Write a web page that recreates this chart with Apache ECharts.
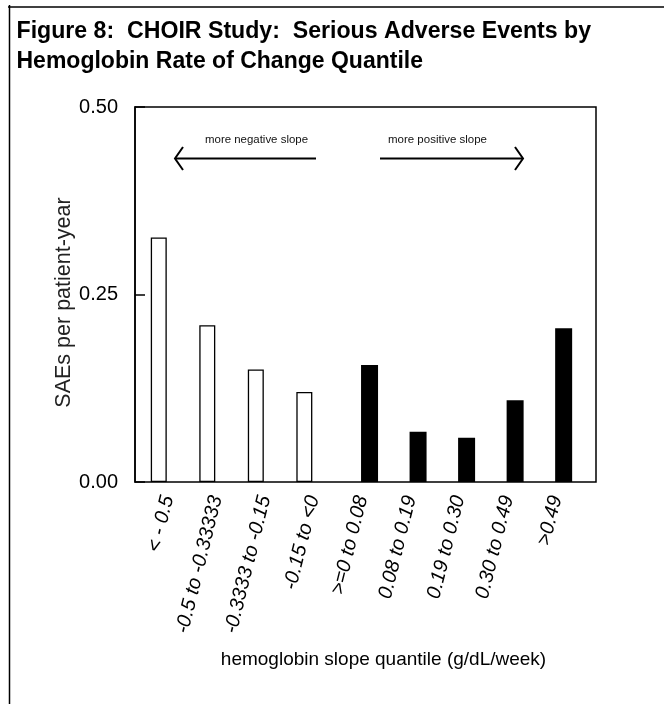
<!DOCTYPE html>
<html>
<head>
<meta charset="utf-8">
<script src="https://cdn.jsdelivr.net/npm/echarts@6/dist/echarts.min.js"></script>
<style>
  html, body { margin: 0; padding: 0; background: #fff; }
  #chart { width: 664px; height: 704px; }
</style>
</head>
<body>
<div id="chart"></div>
<script>
// Hemoglobin slope quantiles (g/dL/week), lowest to highest
const categories = [
  '< - 0.5', '-0.5 to -0.33333', '-0.3333 to -0.15', '-0.15 to <0',
  '>=0 to 0.08', '0.08 to 0.19', '0.19 to 0.30', '0.30 to 0.49', '>0.49'
];
// Serious adverse events per patient-year in each quantile
const saeRates = [0.326, 0.209, 0.150, 0.120, 0.156, 0.067, 0.059, 0.109, 0.205];
// The first four quantiles have a negative slope, the rest a non-negative one
const negativeCount = 4;
const yTicks = [0, 0.25, 0.5];

const titleLines = [
  'Figure 8:  CHOIR Study:  Serious Adverse Events by',
  'Hemoglobin Rate of Change Quantile'
];

// Layout of the bar slots on the x scale (one slot per quantile)
const GROUP_GAP = 1 / 3;      // extra space between negative and positive groups
const LABEL_SHIFT = 0.68;     // tick label anchor inside each slot
const slotPos = i => i + 0.5 + (i >= negativeCount ? GROUP_GAP : 0);

const negData = [], posData = [];
saeRates.forEach((v, i) => {
  (i < negativeCount ? negData : posData).push([slotPos(i), v]);
});

const SANS = "'Liberation Sans', Arial, sans-serif";

// Horizontal scale that fits a text into a given width
const measureCtx = document.createElement('canvas').getContext('2d');
function fitScale(text, font, width) {
  measureCtx.font = font;
  return width / measureCtx.measureText(text).width;
}

const titleFont = 'bold 23.3px ' + SANS;
const noteFont = '11.5px ' + SANS;

const chart = echarts.init(document.getElementById('chart'), null, { renderer: 'canvas' });

chart.setOption({
  backgroundColor: '#fff',
  animation: false,
  grid: {
    left: 135, right: 68, top: 107, bottom: 222,
    show: true, borderColor: '#000', borderWidth: 1.5, backgroundColor: 'transparent'
  },
  xAxis: {
    type: 'value',
    min: 0,
    max: 9.5,
    axisLine: { show: false },
    axisTick: { show: false },
    splitLine: { show: false },
    axisLabel: {
      customValues: categories.map((_, i) => i + LABEL_SHIFT),
      formatter: v => categories[Math.round(v - LABEL_SHIFT)],
      rotate: 76,
      margin: 14,
      fontSize: 20,
      fontStyle: 'italic',
      fontFamily: SANS,
      color: '#000'
    },
    name: 'hemoglobin slope quantile (g/dL/week)',
    nameLocation: 'middle',
    nameGap: 168,
    nameMoveOverlap: false,
    nameTextStyle: {
      fontSize: 19,
      fontFamily: SANS,
      color: '#000',
      padding: [0, 0, 0, 36]
    }
  },
  yAxis: {
    type: 'value',
    min: 0,
    max: 0.5,
    interval: 0.25,
    axisLine: { show: true, lineStyle: { color: '#000', width: 1.5 } },
    axisTick: { show: true, inside: true, length: 10, lineStyle: { color: '#000', width: 1.5 } },
    splitLine: { show: false },
    axisLabel: {
      customValues: yTicks,
      formatter: v => v.toFixed(2),
      margin: 17,
      fontSize: 20,
      fontFamily: SANS,
      color: '#000',
      verticalAlign: 'middle',
      padding: [8, 0, 0, 0]
    },
    name: 'SAEs per patient-year',
    nameLocation: 'middle',
    nameRotate: 90,
    nameGap: 60,
    nameMoveOverlap: false,
    nameTextStyle: { fontSize: 21.5, fontFamily: SANS, color: '#222', padding: [0, 16, 0, 0] }
  },
  series: [
    {
      name: 'Negative slope',
      type: 'bar',
      data: negData,
      barWidth: 16,
      barGap: '-100%',
      itemStyle: { color: '#fff', borderColor: '#000', borderWidth: 1.3 }
    },
    {
      name: 'Positive slope',
      type: 'bar',
      data: posData,
      barWidth: 17,
      barGap: '-100%',
      itemStyle: { color: '#000' }
    }
  ],
  graphic: [
    // page frame
    { type: 'line', shape: { x1: 8, y1: 7, x2: 664, y2: 7 }, style: { stroke: '#000', lineWidth: 1.5 } },
    { type: 'line', shape: { x1: 9.5, y1: 5, x2: 9.5, y2: 704 }, style: { stroke: '#000', lineWidth: 1.5 } },
    // title
    {
      type: 'text', x: 16.5, y: 31.2, scaleX: fitScale(titleLines[0], titleFont, 574.5),
      style: { text: titleLines[0], font: titleFont, fill: '#000', align: 'left', verticalAlign: 'middle' }
    },
    {
      type: 'text', x: 16.5, y: 61.3, scaleX: fitScale(titleLines[1], titleFont, 406.5),
      style: { text: titleLines[1], font: titleFont, fill: '#000', align: 'left', verticalAlign: 'middle' }
    },
    // direction notes
    {
      type: 'text', x: 256.5, y: 140, scaleX: fitScale('more negative slope', noteFont, 103),
      style: { text: 'more negative slope', font: noteFont, fill: '#111', align: 'center', verticalAlign: 'middle' }
    },
    {
      type: 'text', x: 437.5, y: 140, scaleX: fitScale('more positive slope', noteFont, 99),
      style: { text: 'more positive slope', font: noteFont, fill: '#111', align: 'center', verticalAlign: 'middle' }
    },
    { type: 'line', shape: { x1: 175, y1: 158.5, x2: 316, y2: 158.5 }, style: { stroke: '#000', lineWidth: 2 } },
    { type: 'polyline', shape: { points: [[183, 147], [175, 158.5], [183, 170]] }, style: { stroke: '#000', lineWidth: 2, fill: null } },
    { type: 'line', shape: { x1: 380, y1: 158.5, x2: 523, y2: 158.5 }, style: { stroke: '#000', lineWidth: 2 } },
    { type: 'polyline', shape: { points: [[515, 147], [523, 158.5], [515, 170]] }, style: { stroke: '#000', lineWidth: 2, fill: null } }
  ]
});
</script>
</body>
</html>
